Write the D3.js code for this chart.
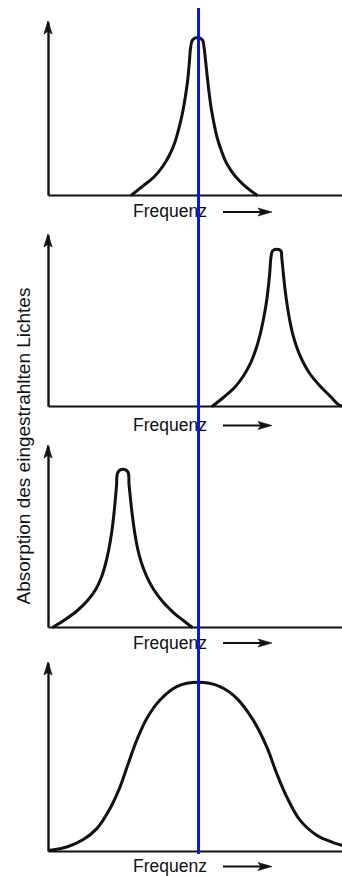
<!DOCTYPE html>
<html>
<head>
<meta charset="utf-8">
<script src="https://cdn.jsdelivr.net/npm/d3@7"></script>
<style>
  html, body { margin: 0; padding: 0; background: #fff; }
  svg { display: block; }
  text { font-family: "Liberation Sans", Arial, Helvetica, sans-serif; fill: #111; }
</style>
</head>
<body>
<svg id="chart" width="342" height="876"></svg>
<script>
// ---- data (frequency 0..100, absorption 0..100) ----
const xLabel = "Frequenz";
const yLabel = "Absorption des eingestrahlten Lichtes";
const markerFreq = 51.2;

const peak1 = [
  [28.47, 0], [32.31, 5.2], [36.05, 10.4], [39.12, 16.76], [41.5, 23.7], [43.2, 30.64],
  [44.56, 38.73], [45.75, 47.4], [46.7, 56.65], [47.52, 66.47], [48.06, 76.3], [48.54, 85.55],
  [49.15, 89.6], [50.78, 91.0], [52.55, 89.6],
  [53.06, 85.55], [53.64, 76.88], [54.18, 68.21], [54.76, 59.54], [55.44, 50.87], [56.36, 42.2],
  [57.48, 33.53], [59.01, 25.43], [60.88, 17.92], [63.61, 10.98], [67.01, 5.2], [70.99, 0]
];
const peak2 = [
  [56.02, 0], [59.86, 5.26], [63.61, 11.11], [66.67, 18.13], [69.05, 25.73], [70.75, 33.33],
  [72.11, 41.52], [73.23, 50.29], [74.15, 59.06], [74.83, 67.84], [75.41, 77.6], [75.85, 87.13],
  [76.36, 90.64], [77.79, 91.64], [79.25, 90.64],
  [79.49, 87.13], [80.03, 77.78], [80.61, 68.42], [81.29, 59.65], [82.14, 50.88], [83.23, 42.11],
  [84.69, 33.92], [86.56, 26.32], [89.12, 18.71], [92.52, 11.7], [96.26, 5.26], [98.81, 0.7], [100, 0]
];
const peak3 = [
  [1.8, 0], [6.12, 4.42], [10.2, 9.39], [13.61, 14.92], [16.33, 20.99], [18.2, 27.62],
  [19.56, 34.81], [20.65, 42.54], [21.53, 50.83], [22.24, 59.67], [22.82, 69.06], [23.3, 77.9],
  [23.8, 85.6], [25.5, 87.1], [27.2, 85.6],
  [27.55, 79.01], [28.1, 70.17], [28.71, 61.33], [29.46, 52.49], [30.44, 43.65], [31.8, 35.36],
  [33.67, 27.62], [36.05, 20.44], [39.12, 13.81], [42.86, 7.73], [46.26, 3.31], [48.88, 0]
];
const band4 = [
  [0.7, 0.4], [6.4, 2.1], [12.0, 6.1], [16.6, 11.9], [21.1, 22.6], [24.5, 34.1],
  [27.3, 46.6], [30.2, 59.0], [33.6, 70.5], [38.1, 80.3], [43.8, 87.4], [51.1, 89.7],
  [58.5, 87.4], [64.2, 81.2], [69.8, 69.6], [74.4, 55.4], [77.8, 41.2], [81.2, 28.8],
  [85.7, 16.4], [91.4, 8.4], [97.0, 4.5], [100, 3.0]
];
const curves = [peak1, peak2, peak3, band4];

// ---- layout ----
const svg = d3.select("#chart");
const x = d3.scaleLinear().domain([0, 100]).range([48, 342]);
const panelLayout = [
  { base: 195, tip: 22,  label: 217, arrow: 212 },
  { base: 406, tip: 235, label: 431, arrow: 425.5 },
  { base: 627, tip: 446, label: 649, arrow: 643 },
  { base: 851, tip: 663, label: 872, arrow: 866.5 }
];

panelLayout.forEach((p, i) => {
  const y = d3.scaleLinear().domain([0, 100]).range([p.base, p.tip]);
  const g = svg.append("g");

  // baseline (x axis)
  const xa = g.append("g").attr("transform", `translate(0,${p.base})`)
    .call(d3.axisBottom(x).ticks(0).tickSizeOuter(0));
  xa.select(".domain").attr("stroke", "#111").attr("stroke-width", 2.2);

  // vertical axis
  const ya = g.append("g").attr("transform", `translate(${x(0)},0)`)
    .call(d3.axisLeft(y).ticks(0).tickSizeOuter(0));
  ya.select(".domain").attr("stroke", "#111").attr("stroke-width", 2.4);

  // arrow head on vertical axis
  const tx = x(0), ty = y(100);
  g.append("path")
    .attr("d", `M${tx},${ty - 1} L${tx - 4},${ty + 12} L${tx},${ty + 9} L${tx + 4},${ty + 12} Z`)
    .attr("fill", "#111").attr("stroke", "#111").attr("stroke-width", 0.8)
    .attr("stroke-linejoin", "miter");

  // curve
  const line = d3.line()
    .x(d => x(d[0])).y(d => y(d[1]))
    .curve(d3.curveCatmullRom.alpha(0.5));
  g.append("path").datum(curves[i])
    .attr("d", line)
    .attr("fill", "none").attr("stroke", "#111")
    .attr("stroke-width", 3).attr("stroke-linejoin", "round").attr("stroke-linecap", "round");

  // x label + arrow
  g.append("text").attr("x", 133).attr("y", p.label)
    .attr("font-size", 17.5).text(xLabel);
  g.append("line")
    .attr("x1", 223).attr("x2", 262).attr("y1", p.arrow).attr("y2", p.arrow)
    .attr("stroke", "#111").attr("stroke-width", 2);
  g.append("path")
    .attr("d", `M272,${p.arrow} L258,${p.arrow - 4} L261,${p.arrow} L258,${p.arrow + 4} Z`)
    .attr("fill", "#111").attr("stroke", "#111").attr("stroke-width", 0.6);
});

// y label (rotated)
svg.append("text")
  .attr("transform", "translate(30,446) rotate(-90)")
  .attr("text-anchor", "middle")
  .attr("font-size", 19)
  .text(yLabel);

// blue marker line
svg.append("line")
  .attr("x1", x(markerFreq)).attr("x2", x(markerFreq))
  .attr("y1", 8).attr("y2", 854)
  .attr("stroke", "#0a14e6").attr("stroke-width", 3);
</script>
</body>
</html>
